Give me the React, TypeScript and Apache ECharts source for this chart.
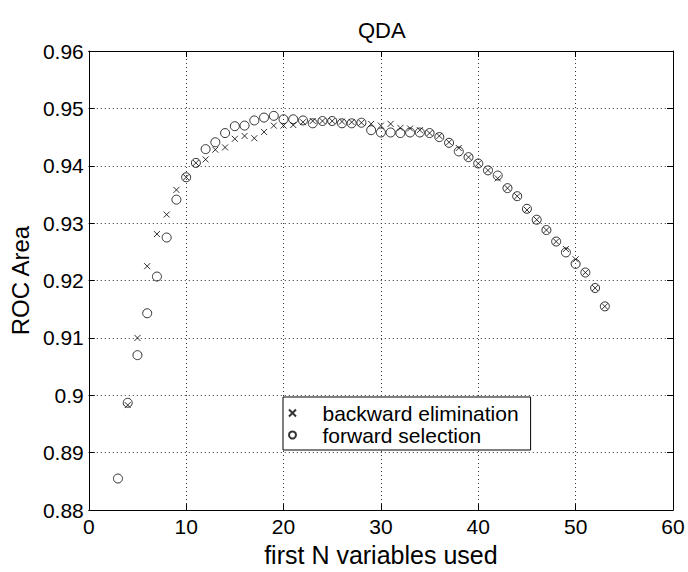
import React, { useEffect, useRef } from "react";
import * as echarts from "echarts";

const forwardN = [3,4,5,6,7,8,9,10,11,12,13,14,15,16,17,18,19,20,21,22,23,24,25,26,27,28,29,30,31,32,33,34,35,36,37,38,39,40,41,42,43,44,45,46,47,48,49,50,51,52,53];
const forwardSelection = [0.8855,0.8987,0.9070,0.9143,0.9207,0.9275,0.9341,0.9380,0.9405,0.9429,0.9441,0.9457,0.9469,0.9470,0.9479,0.9484,0.9487,0.9481,0.9481,0.9479,0.9474,0.9478,0.9478,0.9474,0.9474,0.9475,0.9462,0.9458,0.9458,0.9457,0.9458,0.9458,0.9457,0.9450,0.9440,0.9425,0.9415,0.9404,0.9392,0.9383,0.9361,0.9347,0.9325,0.9306,0.9288,0.9268,0.9249,0.9229,0.9214,0.9187,0.9155];
const backwardN = [4,5,6,7,8,9,10,11,12,13,14,15,16,17,18,19,20,21,22,23,24,25,26,27,28,29,30,31,32,33,34,35,36,37,38,39,40,41,42,43,44,45,46,47,48,49,50,51,52,53];
const backwardElimination = [0.8983,0.9100,0.9225,0.9281,0.9315,0.9358,0.9380,0.9405,0.9411,0.9428,0.9432,0.9447,0.9452,0.9448,0.9459,0.9470,0.9470,0.9471,0.9476,0.9478,0.9478,0.9478,0.9477,0.9476,0.9475,0.9473,0.9470,0.9473,0.9466,0.9465,0.9462,0.9457,0.9452,0.9441,0.9431,0.9415,0.9404,0.9392,0.9378,0.9361,0.9347,0.9323,0.9306,0.9288,0.9268,0.9255,0.9237,0.9214,0.9187,0.9155];
const xTicks = { min: 0, max: 60, interval: 10 };
const yTicks = { min: 0.88, max: 0.96, interval: 0.01 };

const FONT = "'Liberation Sans', Arial, Helvetica, sans-serif";

export default function App() {
  const ref = useRef<HTMLDivElement>(null);
  useEffect(() => {
    if (!ref.current) return;
    const chart = echarts.init(ref.current, undefined, { renderer: "svg" });
    const gridLine = { show: true, lineStyle: { color: "#333", type: [1, 3], width: 1 } };
    const axisLine = { show: true, onZero: false, lineStyle: { color: "#000", width: 1 } };
    const tick = { show: true, inside: true, length: 6, lineStyle: { color: "#000", width: 1 } };
    chart.setOption({
      animation: false,
      backgroundColor: "#fff",
      textStyle: { fontFamily: FONT },
      title: {
        text: "QDA",
        left: 353,
        top: 14,
        textStyle: { fontSize: 22, fontWeight: "normal", color: "#000", fontFamily: FONT },
      },
      grid: { left: 82, right: 15, top: 51, bottom: 54, containLabel: false },
      legend: {
        orient: "vertical",
        left: 283,
        top: 397,
        padding: [5, 12, 4, 5],
        itemWidth: 50,
        itemHeight: 7,
        itemGap: 0,
        borderColor: "#000",
        borderWidth: 1,
        backgroundColor: "#fff",
        selectedMode: false,
        textStyle: { fontSize: 21, lineHeight: 22, color: "#000", fontFamily: FONT },
        data: ["backward elimination", "forward selection"],
      },
      xAxis: [
        {
          type: "value",
          position: "bottom",
          ...xTicks,
          axisLine,
          axisTick: tick,
          axisLabel: { fontSize: 21, color: "#000", margin: 6, fontFamily: FONT },
          splitLine: gridLine,
          name: "first N variables used",
          nameLocation: "middle",
          nameGap: 25,
          nameTextStyle: { fontSize: 25, color: "#000", fontFamily: FONT, verticalAlign: "top" },
        },
        {
          type: "value",
          position: "top",
          ...xTicks,
          axisLine,
          axisTick: tick,
          axisLabel: { show: false },
          splitLine: { show: false },
        },
      ],
      yAxis: [
        {
          type: "value",
          position: "left",
          ...yTicks,
          axisLine,
          axisTick: tick,
          axisLabel: {
            fontSize: 21,
            color: "#000",
            margin: 5,
            fontFamily: FONT,
            formatter: (v: number) => String(+v.toFixed(2)),
          },
          splitLine: gridLine,
          name: "ROC Area",
          nameLocation: "middle",
          nameGap: 50,
          nameRotate: 90,
          nameTextStyle: { fontSize: 24, color: "#000", fontFamily: FONT },
        },
        {
          type: "value",
          position: "right",
          ...yTicks,
          axisLine,
          axisTick: tick,
          axisLabel: { show: false },
          splitLine: { show: false },
        },
      ],
      series: [
        {
          name: "backward elimination",
          type: "scatter",
          xAxisIndex: 0,
          yAxisIndex: 0,
          symbol: "path://M0 0L10 10M10 0L0 10",
          symbolSize: 6,
          itemStyle: { color: "rgba(0,0,0,0)", borderColor: "#000", borderWidth: 1 },
          data: backwardN.map((n, i) => [n, backwardElimination[i]]),
        },
        {
          name: "forward selection",
          type: "scatter",
          xAxisIndex: 0,
          yAxisIndex: 0,
          symbol: "circle",
          symbolSize: 9,
          itemStyle: { color: "rgba(0,0,0,0)", borderColor: "#000", borderWidth: 1 },
          data: forwardN.map((n, i) => [n, forwardSelection[i]]),
        },
      ],
    });
    return () => chart.dispose();
  }, []);
  return (
    <div
      ref={ref}
      style={{ position: "fixed", left: 0, top: 0, width: 688, height: 572, background: "#fff" }}
    />
  );
}
